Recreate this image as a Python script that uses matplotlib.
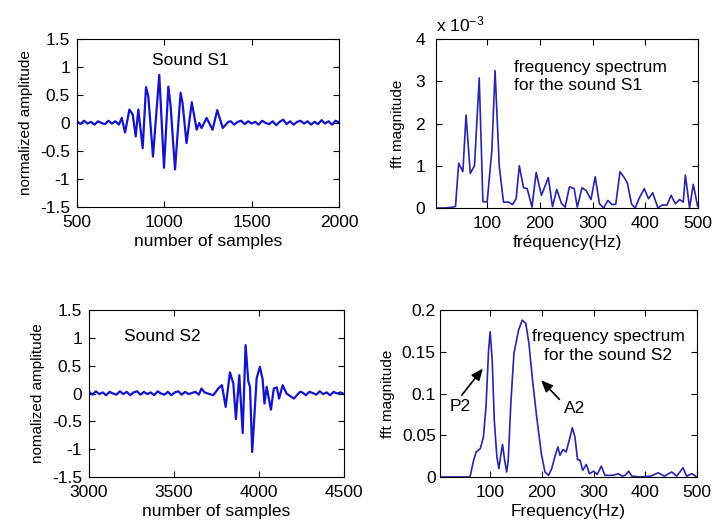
import numpy as np
import matplotlib
matplotlib.use("Agg")
import matplotlib.pyplot as plt

plt.rcParams['font.family'] = ['Liberation Sans', 'DejaVu Sans']
plt.rcParams['mathtext.fontset'] = 'custom'
plt.rcParams['mathtext.rm'] = 'Liberation Sans'
plt.rcParams['mathtext.it'] = 'Liberation Sans'

# ---- sound S1 (time domain) ----
s1_quiet_start = [0.03, -0.02, 0.04, -0.01, 0.02, -0.03, 0.03, 0.00, -0.02, 0.04, -0.01, 0.03, -0.03]
s1_burst_x = [756, 775, 800, 819, 836, 851, 876, 895, 908, 935, 971, 998, 1023, 1036, 1061,
              1093, 1104, 1127, 1157, 1185, 1200, 1213, 1242, 1276, 1303, 1334, 1366]
s1_burst_y = [0.09, -0.17, 0.24, 0.15, -0.24, 0.24, -0.45, 0.64, 0.48, -0.6, 0.86, -0.8, 0.65, 0.3, -0.83,
              0.54, 0.36, -0.36, 0.37, -0.12, 0.0, -0.09, 0.09, -0.12, 0.23, -0.09, 0.02]
s1_quiet_end = [0.03, -0.03, 0.02, 0.04, -0.02, 0.03, -0.01, 0.02, -0.03, 0.04, 0.00, -0.02, 0.03, -0.04,
                0.02, 0.06, -0.02, 0.03, -0.03, 0.02, 0.04, -0.01, 0.03, -0.03, 0.02, -0.02, 0.05, -0.01,
                0.03, -0.03, 0.04, 0.01]

# ---- sound S2 (time domain) ----
s2_quiet_start = [0.03, -0.02, 0.04, -0.01, 0.02, -0.03, 0.03, 0.00, -0.02, 0.04, -0.01, 0.03, -0.03,
                  0.02, 0.04, -0.02, 0.03, -0.01, 0.02, -0.03, 0.04, 0.00, -0.02, 0.03, -0.03, 0.02,
                  0.04, -0.02, 0.03, -0.01, 0.01, 0.03, -0.02]
s2_burst_x = [3662, 3680, 3700, 3731, 3760, 3782, 3804, 3829, 3849, 3864, 3884, 3904, 3921, 3937, 3947,
              3960, 3976, 3986, 4005, 4021, 4032, 4045, 4070, 4087, 4105, 4118, 4139, 4162, 4205, 4241]
s2_burst_y = [0.09, 0.02, 0.0, -0.03, 0.09, 0.15, -0.24, 0.38, 0.18, -0.46, 0.33, -0.71, 0.87, 0.22, 0.12,
              -1.05, -0.24, 0.27, 0.48, 0.26, -0.18, 0.12, -0.29, 0.09, 0.11, -0.09, 0.15, 0.0, -0.09, 0.03]
s2_quiet_end = [0.02, -0.03, 0.03, 0.01, -0.02, 0.04, -0.01, 0.02, -0.03, 0.03, 0.00, 0.02, -0.01]

# ---- spectrum S1 (x 1e-3) ----
hz1 = [3, 20, 35, 40, 46, 54, 60, 68, 76, 85, 92, 100, 109, 115, 123, 131, 141, 148, 155, 161,
       169, 176, 185, 193, 203, 216, 224, 232, 241, 248, 256, 265, 271, 280, 288, 297, 305, 313, 321, 329,
       337, 344, 352, 360, 366, 374, 381, 388, 398, 406, 414, 424, 432, 441, 449, 457, 465, 472, 476, 484,
       491, 499]
mag1 = [0, 0, 0.02, 0.04, 1.06, 0.86, 2.2, 0.82, 1.0, 3.08, 0.15, 0.14, 1.37, 3.25, 0.99, 0.14, 0.14, 0.08, 0.22, 1.0,
        0.48, 0.46, 0.02, 0.84, 0.3, 0.72, 0.03, 0.44, 0.11, 0.02, 0.5, 0.46, 0.02, 0.48, 0.41, 0.2, 0.74, 0.1, 0.0, 0.18,
        0.08, 0.09, 0.86, 0.72, 0.59, 0.09, 0.0, 0.22, 0.46, 0.22, 0.36, 0.0, 0.07, 0.07, 0.3, 0.1, 0.2, 0.14, 0.78, 0.0,
        0.56, 0.05]

# ---- spectrum S2 ----
hz2 = [3, 61, 68, 73, 81, 87, 92, 97, 100, 104, 108, 113, 117, 120, 124, 128, 132, 135, 140, 146,
       155, 162, 169, 175, 182, 190, 199, 206, 213, 219, 226, 231, 235, 241, 247, 253, 259, 264, 269, 274,
       279, 286, 292, 300, 307, 315, 322, 338, 348, 355, 361, 368, 374, 390, 410, 425, 437, 451, 461, 473,
       480, 490, 500]
mag2 = [0, 0, 0.02, 0.03, 0.034, 0.048, 0.084, 0.152, 0.174, 0.14, 0.068, 0.024, 0.01, 0.024, 0.039, 0.02, 0.006, 0.02, 0.088, 0.148,
        0.176, 0.188, 0.184, 0.16, 0.116, 0.072, 0.028, 0.006, 0.002, 0.01, 0.026, 0.036, 0.026, 0.033, 0.03, 0.044, 0.059, 0.048, 0.021, 0.02,
        0.008, 0.015, 0.004, 0.007, 0.003, 0.013, 0.002, 0.002, 0.004, 0.001, 0.002, 0.007, 0.001, 0.0, 0.001, 0.005, 0.001, 0.006, 0.001, 0.011,
        0.001, 0.004, 0.0]

amp_ticks = [-1.5, -1, -0.5, 0, 0.5, 1, 1.5]
amp_labels = ['-1.5', '-1', '-0.5', '0', '0.5', '1', '1.5']

WAVE = '#1414c8'
SPEC = '#2626a6'
FS = 12.5     # horizontal text
FSY = 11      # rotated y labels


def build(quiet_a, x0, bx, by, quiet_b, x1):
    xa = np.linspace(x0, bx[0] - 16, len(quiet_a))
    xb = np.linspace(bx[-1] + 14, x1, len(quiet_b))
    return np.concatenate([xa, bx, xb]), np.concatenate([quiet_a, by, quiet_b])


def matlab_box(ax):
    ax.tick_params(direction='in', top=True, right=True, length=4, width=0.8, labelsize=FS)
    ax.tick_params(axis='x', pad=6)
    ax.tick_params(axis='y', pad=5)
    for sp in ax.spines.values():
        sp.set_linewidth(0.8)


fig = plt.figure(figsize=(7.13, 5.20), dpi=100)

# top-left: S1 waveform
ax1 = fig.add_axes([0.108, 0.602, 0.3675, 0.323])
x, y = build(s1_quiet_start, 500, s1_burst_x, s1_burst_y, s1_quiet_end, 2000)
ax1.plot(x, y, color=WAVE, lw=1.6)
ax1.set_xlim(500, 2000)
ax1.set_ylim(-1.5, 1.5)
ax1.set_xticks([500, 1000, 1500, 2000])
ax1.set_yticks(amp_ticks)
ax1.set_yticklabels(amp_labels)
ax1.set_xlabel('number of samples', fontsize=FS, labelpad=3)
ax1.set_ylabel('normalized amplitude', fontsize=FSY, labelpad=5)
ax1.text(1147, 1.12, 'Sound S1', fontsize=FS, ha='center', va='center')
matlab_box(ax1)

# top-right: S1 spectrum
ax2 = fig.add_axes([0.6115, 0.600, 0.3675, 0.325])
ax2.plot(hz1, mag1, color=SPEC, lw=1.2)
ax2.set_xlim(3, 500)
ax2.set_ylim(0, 4)
ax2.set_xticks([100, 200, 300, 400, 500])
ax2.set_yticks([0, 1, 2, 3, 4])
ax2.set_xlabel('fréquency(Hz)', fontsize=FS, labelpad=3)
ax2.set_ylabel('fft magnitude', fontsize=FSY, labelpad=7)
ax2.text(0.0, 1.03, r'x 10$^{-3}$', transform=ax2.transAxes, fontsize=FS, ha='left', va='bottom')
ax2.text(150, 3.33, 'frequency spectrum', fontsize=FS, ha='left', va='center')
ax2.text(150, 2.91, 'for the sound S1', fontsize=FS, ha='left', va='center')
matlab_box(ax2)
ax2.tick_params(axis='y', pad=8)

# bottom-left: S2 waveform
ax3 = fig.add_axes([0.1248, 0.0827, 0.3577, 0.321])
x, y = build(s2_quiet_start, 3000, s2_burst_x, s2_burst_y, s2_quiet_end, 4500)
ax3.plot(x, y, color=WAVE, lw=1.6)
ax3.set_xlim(3000, 4500)
ax3.set_ylim(-1.5, 1.5)
ax3.set_xticks([3000, 3500, 4000, 4500])
ax3.set_yticks(amp_ticks)
ax3.set_yticklabels(amp_labels)
ax3.set_xlabel('number of samples', fontsize=FS, labelpad=3)
ax3.set_ylabel('nomalized amplitude', fontsize=FSY, labelpad=5)
ax3.text(3431, 1.03, 'Sound S2', fontsize=FS, ha='center', va='center')
matlab_box(ax3)

# bottom-right: S2 spectrum
ax4 = fig.add_axes([0.6171, 0.0827, 0.3604, 0.321])
ax4.plot(hz2, mag2, color=SPEC, lw=1.2)
ax4.set_xlim(3, 500)
ax4.set_ylim(0, 0.2)
ax4.set_xticks([100, 200, 300, 400, 500])
ax4.set_yticks([0, 0.05, 0.1, 0.15, 0.2])
ax4.set_yticklabels(['0', '0.05', '0.1', '0.15', '0.2'])
ax4.set_xlabel('Frequency(Hz)', fontsize=FS, labelpad=3)
ax4.set_ylabel('fft magnitude', fontsize=FSY, labelpad=5)
ax4.text(328, 0.168, 'frequency spectrum', fontsize=FS, ha='center', va='center')
ax4.text(328, 0.146, 'for the sound S2', fontsize=FS, ha='center', va='center')
arrow = dict(arrowstyle='-|>,head_length=0.7,head_width=0.3', color='black', lw=1.2, shrinkA=0, shrinkB=0)
ax4.annotate('', xy=(86, 0.130), xytext=(45, 0.098), arrowprops=arrow)
ax4.text(42, 0.084, 'P2', fontsize=FS, ha='center', va='center')
ax4.annotate('', xy=(198.6, 0.116), xytext=(234, 0.093), arrowprops=arrow)
ax4.text(264, 0.082, 'A2', fontsize=FS, ha='center', va='center')
matlab_box(ax4)
ax4.tick_params(axis='y', pad=3)

fig.savefig('out.png', dpi=100)
